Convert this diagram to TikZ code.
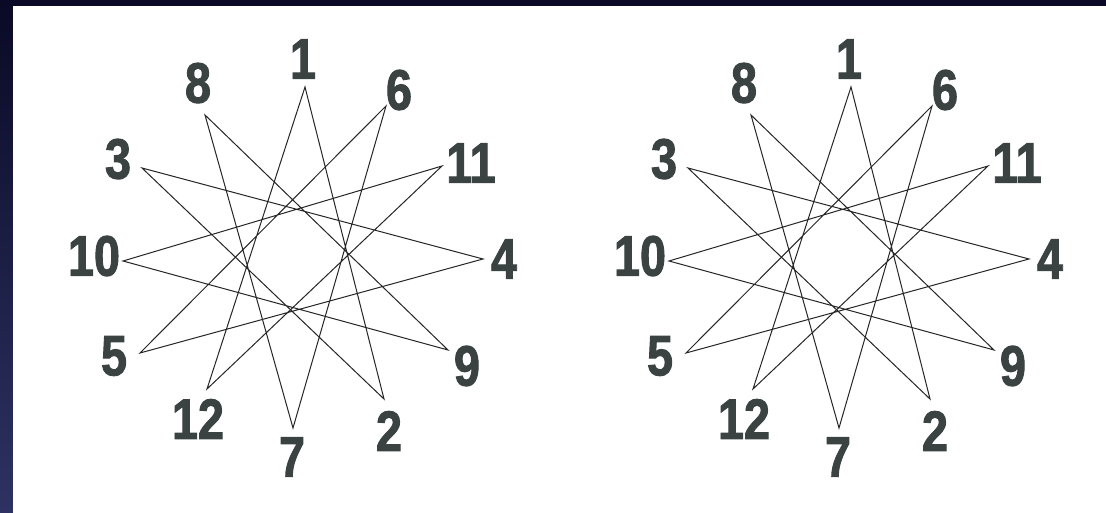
\documentclass[tikz,border=0pt]{standalone}
\usepackage{fontspec}
\newfontfamily\numfont{Liberation Sans}[FakeStretch=0.82,FakeBold=1.6]
\definecolor{numgray}{HTML}{3A4242}
\definecolor{navytop}{HTML}{0A0A26}
\definecolor{navybot}{HTML}{2D3262}
\begin{document}
\begin{tikzpicture}[x=1pt,y=-1pt,
  num/.style={font=\numfont\bfseries\fontsize{57}{57}\selectfont, text=numgray, inner sep=0pt},
  edge/.style={draw=black!85, line width=1pt, line join=miter}]
\shade[top color=navytop,bottom color=navybot] (0,0) rectangle (1106,513);
\fill[white] (13,6) rectangle (1106,513);
\useasboundingbox (0,0) rectangle (1106,513);
\foreach \dx/\p in {0/A,546/B}{
  \foreach \i/\vx/\vy/\lx/\ly in {1/305/87/303/59, 2/384/399/389/431, 3/142/168/118/159,
      4/483/259/504/259, 5/140/353/114/356, 6/386/106/399/90, 7/293/428/292/457,
      8/205/115/198/83, 9/448/350/467/366, 10/123/261/94/256, 11/442/166/471/163,
      12/207/389/198/419}{
    \coordinate (\p-v\i) at (\dx+\vx,\vy);
    \node[num] (\p-l\i) at (\dx+\lx,\ly) {\i};
  }
  \draw[edge] (\p-v1) -- (\p-v2) -- (\p-v3) -- (\p-v4) -- (\p-v5) -- (\p-v6) -- (\p-v7)
    -- (\p-v8) -- (\p-v9) -- (\p-v10) -- (\p-v11) -- (\p-v12) -- cycle;
}
\end{tikzpicture}
\end{document}
